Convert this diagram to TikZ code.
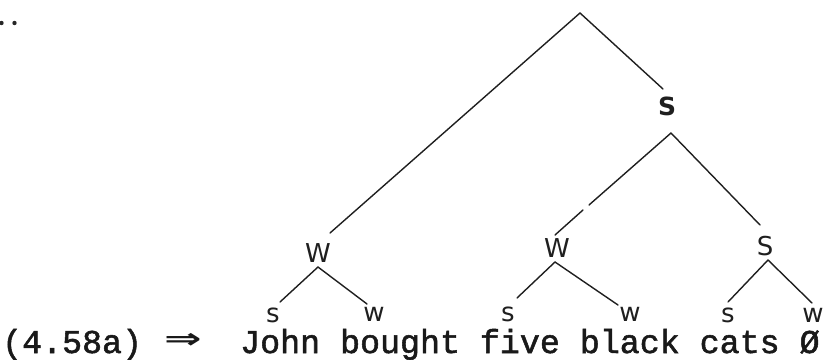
\documentclass[tikz,border=0pt]{standalone}
\usepackage{fontspec}
\usepackage{graphicx}
\newfontfamily\typew[BoldFont={Liberation Mono}, BoldFeatures={FakeBold=1.6}]{Liberation Mono}
\newfontfamily\hand{DejaVu Sans}
\begin{document}
\begin{tikzpicture}[x=1pt,y=-1pt,
  lab/.style={font=\hand\fontsize{26}{26}\selectfont, inner sep=0pt, text=black!88},
  leaf/.style={font=\hand\fontsize{26}{26}\selectfont, inner sep=0pt, text=black!88},
  typed/.style={font=\typew\bfseries\fontsize{33.3}{34}\selectfont, inner sep=0pt, anchor=base west, text=black!90},
  edge/.style={line width=1.4pt, line cap=round, draw=black!88}]
\useasboundingbox (0,0) rectangle (825,359);
% stray dots
\fill[black!85] (1.5,23) circle (2.2pt);
\fill[black!85] (14.5,23) circle (2.2pt);
% root and top S
\coordinate (r) at (580,13);
\node[lab,font=\hand\bfseries\fontsize{25}{25}\selectfont] (S0) at (667,106) {S};
\coordinate (S0t) at (663,89);
\coordinate (S0b) at (671,133);
% mid level
\node[lab] (W1) at (318,253) {W};
\coordinate (W1t) at (330,233);
\coordinate (W1b) at (318,267);
\node[lab] (W2) at (557,248) {W};
\coordinate (W2t) at (555,235);
\coordinate (W2b) at (555,262);
\node[lab] (S3) at (765,246) {S};
\coordinate (S3t) at (760,225);
\coordinate (S3b) at (768,260);
% gap in the S0--W2 line
\coordinate (g1) at (589,205);
\coordinate (g2) at (583,210);
% leaves
\node[leaf] (a1) at (273,315) {s};
\coordinate (a1t) at (280,302);
\node[leaf] (a2) at (374,314) {w};
\coordinate (a2t) at (367,304);
\node[leaf] (b1) at (508,314) {s};
\coordinate (b1t) at (517,298);
\node[leaf] (b2) at (630,314) {w};
\coordinate (b2t) at (618,305);
\node[leaf] (c1) at (728,315) {s};
\coordinate (c1t) at (728,302);
\node[leaf] (c2) at (813,315) {w};
\coordinate (c2t) at (812,303);
% edges
\draw[edge] (S0t) -- (r) -- (W1t);
\draw[edge] (S0b) -- (g1);
\draw[edge] (g2) -- (W2t);
\draw[edge] (S0b) -- (S3t);
\draw[edge] (a1t) -- (W1b) -- (a2t);
\draw[edge] (b1t) -- (W2b) -- (b2t);
\draw[edge] (c1t) -- (S3b) -- (c2t);
% text line
\node[typed] (lbl) at (2,353) {(4.58a)};
\node[inner sep=0pt, text=black!90, font=\hand\bfseries\fontsize{28}{28}\selectfont] (arr) at (183,341) {\scalebox{1.6}[1]{⇒}};
\node[typed] (sent) at (240,353) {John bought five black cats Ø};
\end{tikzpicture}
\end{document}
